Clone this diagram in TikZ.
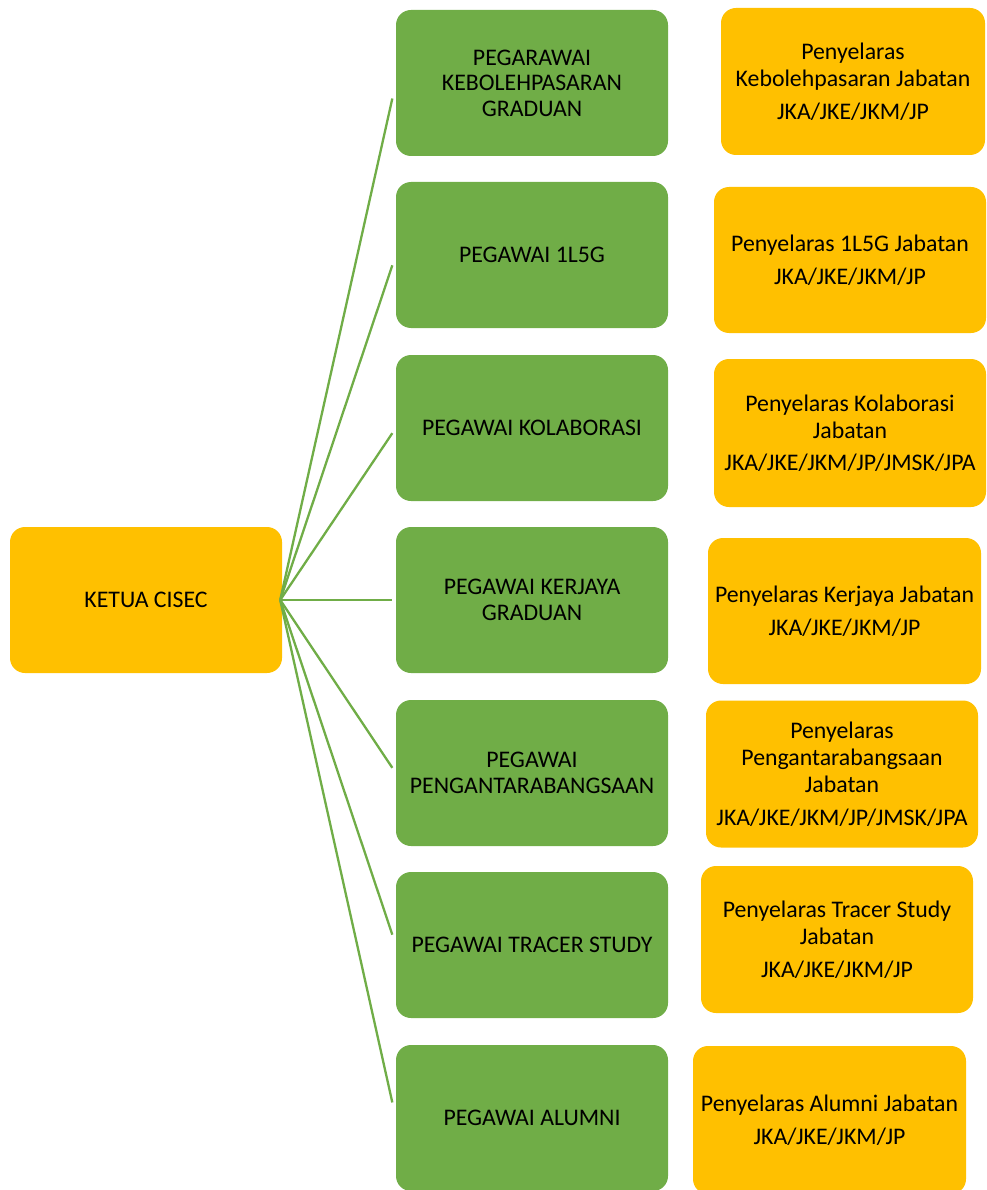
\documentclass[tikz,border=0pt]{standalone}
\usepackage{fontspec}
\setmainfont{Carlito}
\usetikzlibrary{calc}
\definecolor{boxgreen}{HTML}{70AD47}
\definecolor{boxorange}{HTML}{FFC000}
\tikzset{
  basebox/.style={rectangle, rounded corners=15pt, draw=none, align=center,
    inner sep=1pt, text=black, minimum height=146pt},
  greenbox/.style={basebox, fill=boxgreen, minimum width=272pt,
    font=\fontsize{23.8}{25.5}\selectfont},
  orangebox/.style={basebox, fill=boxorange,
    font=\fontsize{23.8}{27}\selectfont},
  link/.style={draw=boxgreen, line width=2.3pt}
}
\begin{document}
\begin{tikzpicture}[x=1pt,y=-1pt]
\useasboundingbox (0,0) rectangle (986,1190);
\clip (0,0) rectangle (986,1190);

\node[orangebox, minimum width=272pt] (k) at (146,600) {KETUA CISEC};

\node[greenbox] (g1) at (532,83) {PEGARAWAI\\KEBOLEHPASARAN\\GRADUAN};
\node[greenbox] (g2) at (532,255) {PEGAWAI 1L5G};
\node[greenbox] (g3) at (532,428) {PEGAWAI KOLABORASI};
\node[greenbox] (g4) at (532,600) {PEGAWAI KERJAYA\\GRADUAN};
\node[greenbox] (g5) at (532,773) {PEGAWAI\\PENGANTARABANGSAAN};
\node[greenbox] (g6) at (532,945) {PEGAWAI TRACER STUDY};
\node[greenbox] (g7) at (532,1118) {PEGAWAI ALUMNI};

\node[orangebox, minimum width=264pt, minimum height=147pt] (o1) at (853,81.5)
  {Penyelaras\\Kebolehpasaran Jabatan\\[5.5pt]JKA/JKE/JKM/JP};
\node[orangebox, minimum width=272pt] (o2) at (850,260)
  {Penyelaras 1L5G Jabatan\\[5.5pt]JKA/JKE/JKM/JP};
\node[orangebox, minimum width=272pt, minimum height=148pt] (o3) at (850,433)
  {Penyelaras Kolaborasi\\Jabatan\\[5.5pt]JKA/JKE/JKM/JP/JMSK/JPA};
\node[orangebox, minimum width=273pt] (o4) at (844.5,611)
  {Penyelaras Kerjaya Jabatan\\[5.5pt]JKA/JKE/JKM/JP};
\node[orangebox, minimum width=272pt, minimum height=147pt] (o5) at (842,774)
  {Penyelaras\\Pengantarabangsaan\\Jabatan\\[5.5pt]JKA/JKE/JKM/JP/JMSK/JPA};
\node[orangebox, minimum width=272pt, minimum height=147pt] (o6) at (837,939.5)
  {Penyelaras Tracer Study\\Jabatan\\[5.5pt]JKA/JKE/JKM/JP};
\node[orangebox, minimum width=273pt, minimum height=148pt] (o7) at (829.5,1120)
  {Penyelaras Alumni Jabatan\\[5.5pt]JKA/JKE/JKM/JP};

\coordinate (hub) at ($(k.east)+(-2,0)$);
\foreach \g in {g1,g2,g3,g4,g5,g6,g7}{
  \draw[link] (hub) -- ($(hub)!0.97!(\g.west)$);
}
\end{tikzpicture}
\end{document}
